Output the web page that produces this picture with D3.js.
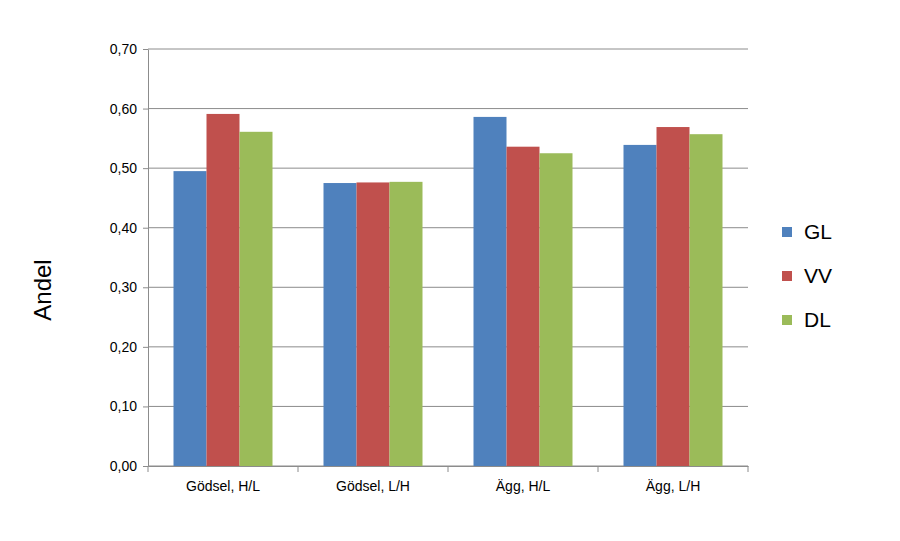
<!DOCTYPE html>
<html><head><meta charset="utf-8">
<script src="https://cdn.jsdelivr.net/npm/d3@7"></script>
<style>body{margin:0;background:#fff}svg{font-family:"DejaVu Sans",sans-serif}</style>
</head><body>
<svg id="chart" width="900" height="541"></svg>
<script>
const categories = ["Gödsel, H/L", "Gödsel, L/H", "Ägg, H/L", "Ägg, L/H"];
const seriesNames = ["GL", "VV", "DL"];
const glValues = [0.495, 0.475, 0.586, 0.539];
const vvValues = [0.591, 0.476, 0.536, 0.569];
const dlValues = [0.561, 0.477, 0.525, 0.557];
const yTicks = [0, 0.1, 0.2, 0.3, 0.4, 0.5, 0.6, 0.7];
const colors = ["#4F81BD", "#C0504D", "#9BBB59"];

const series = [glValues, vvValues, dlValues];
const svg = d3.select("#chart");
const plotLeft = 148, plotRight = 748, plotTop = 49, plotBottom = 466;

const x = d3.scaleBand().domain(categories).range([plotLeft, plotRight])
  .paddingInner(0.34).paddingOuter(0.17);
const xs = d3.scaleBand().domain(seriesNames).range([0, x.bandwidth()]);
const y = d3.scaleLinear().domain([0, 0.7]).range([plotBottom, plotTop]);

// gridlines
svg.append("g").selectAll("line").data(yTicks).join("line")
  .attr("x1", plotLeft).attr("x2", plotRight)
  .attr("y1", d => y(d)).attr("y2", d => y(d))
  .attr("stroke", "#8c8c8c").attr("stroke-width", 1);

// bars
categories.forEach((c, i) => {
  svg.append("g").selectAll("rect").data(seriesNames).join("rect")
    .attr("x", s => x(c) + xs(s))
    .attr("y", (s, j) => y(series[j][i]))
    .attr("width", xs.bandwidth())
    .attr("height", (s, j) => plotBottom - y(series[j][i]))
    .attr("fill", (s, j) => colors[j]);
});

// y axis
const yAxis = svg.append("g").attr("transform", `translate(${plotLeft},0)`)
  .call(d3.axisLeft(y).tickValues(yTicks).tickSize(5).tickSizeOuter(0)
    .tickFormat(d => d3.format(".2f")(d).replace(".", ",")));
yAxis.selectAll("text").attr("font-size", 14).attr("fill", "#000").attr("dx", -3);
yAxis.selectAll("line,path").attr("stroke", "#8c8c8c");

// x axis
const xAxis = svg.append("g").attr("transform", `translate(0,${plotBottom})`)
  .call(d3.axisBottom(x).tickSize(0));
xAxis.select(".domain").attr("stroke", "#8c8c8c");
xAxis.selectAll("text").attr("font-size", 14).attr("fill", "#000").attr("dy", "1.6em");
const step = x.step();
svg.append("g").selectAll("line").data(d3.range(categories.length + 1)).join("line")
  .attr("x1", i => plotLeft + i * step).attr("x2", i => plotLeft + i * step)
  .attr("y1", plotBottom).attr("y2", plotBottom + 6).attr("stroke", "#8c8c8c");

// y title
svg.append("text").attr("transform", "translate(51,290) rotate(-90)")
  .attr("text-anchor", "middle").attr("font-size", 24)
  .attr("font-family", "Liberation Sans, sans-serif").text("Andel");

// legend
const legend = svg.append("g").selectAll("g").data(seriesNames).join("g")
  .attr("transform", (d, i) => `translate(782,${232 + i * 44})`);
legend.append("rect").attr("x", 0).attr("y", -5).attr("width", 10).attr("height", 10)
  .attr("fill", (d, i) => colors[i]);
legend.append("text").attr("x", 22).attr("y", 0).attr("dy", "0.35em")
  .attr("font-size", 21).attr("font-family", "Liberation Sans, sans-serif").text(d => d);
</script>
</body></html>
